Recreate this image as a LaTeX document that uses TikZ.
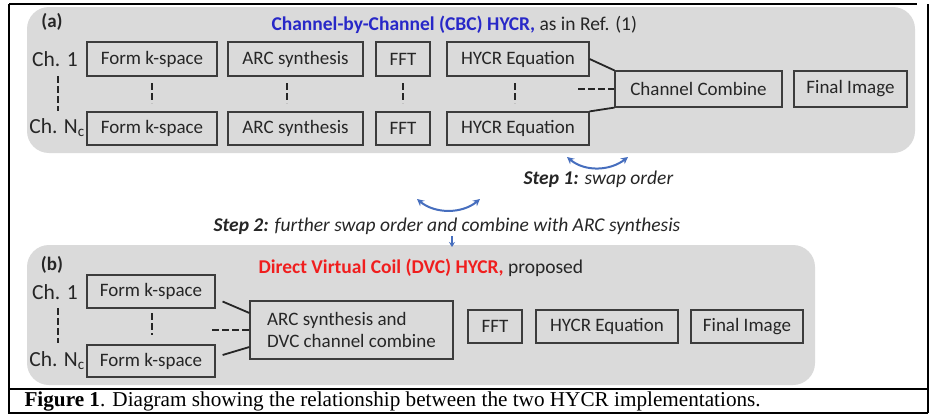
\documentclass[tikz,border=0pt]{standalone}
\usepackage{fontspec}
\setmainfont{Carlito}
\newfontfamily\capfont{Liberation Serif}
\usetikzlibrary{arrows.meta}
\definecolor{panelgray}{RGB}{218,218,218}
\definecolor{boxline}{RGB}{60,60,60}
\definecolor{cbcblue}{RGB}{40,40,200}
\definecolor{dvcred}{RGB}{240,30,30}
\definecolor{arrowblue}{RGB}{70,110,190}
\tikzset{
  panel/.style={fill=panelgray, draw=none, rounded corners=22pt},
  stepbox/.style={draw=boxline, line width=1.2pt, fill=panelgray, inner sep=0pt,
    font=\fontsize{19}{22}\selectfont, text=black!85},
  conn/.style={line width=1.8pt, black!85},
  dconn/.style={line width=2.4pt, black!85, dash pattern=on 7pt off 3pt},
  chlabel/.style={font=\fontsize{21.5}{24}\selectfont, text=black!85},
  swap/.style={line width=2pt, arrowblue, {Stealth[length=7pt,width=7pt]}-{Stealth[length=7pt,width=7pt]}},
  steptext/.style={font=\fontsize{19.5}{22}\selectfont\itshape, text=black!85, anchor=west},
  title/.style={font=\fontsize{19.5}{22}\selectfont, anchor=west, text=black!85},
}
\begin{document}
\begin{tikzpicture}[x=1pt,y=-1pt]
\useasboundingbox (0,0) rectangle (934,415);
\fill[white] (0,0) rectangle (934,415);
% outer frame
\draw[line width=1.5pt] (9,4) -- (917,4);
\draw[line width=2.5pt] (928,4) -- (928,413);
\draw[line width=1.5pt] (9,4) -- (9,413) -- (928,413);
\draw[line width=1.5pt] (9,389) -- (928,389);
% panels
\fill[panel] (27,7) rectangle (915,153);
\fill[panel] (27,245) rectangle (815,385);

% ---------- (a) ----------
\node[font=\fontsize{19}{22}\selectfont\bfseries, text=black!85] (la) at (52,22) {(a)};
\node[title] (ta) at (268,25)
  {\textcolor{cbcblue}{\bfseries Channel-by-Channel (CBC) HYCR,} as in Ref. (1)};
\node[chlabel] (ch1a) at (55,59) {Ch. 1};
\node[chlabel] (chna) at (57,128) {Ch. N\textsubscript{c}};

\node[stepbox, minimum width=130pt, minimum height=34pt] (fa1) at (152,59) {Form k-space};
\node[stepbox, minimum width=135pt, minimum height=34pt] (aa1) at (295.5,59) {ARC synthesis};
\node[stepbox, minimum width=54pt, minimum height=34pt] (ffa1) at (403,59) {FFT};
\node[stepbox, minimum width=142pt, minimum height=34pt] (ha1) at (518,59) {HYCR Equation};

\node[stepbox, minimum width=130pt, minimum height=33pt] (fa2) at (152,128.5) {Form k-space};
\node[stepbox, minimum width=135pt, minimum height=33pt] (aa2) at (295.5,128.5) {ARC synthesis};
\node[stepbox, minimum width=54pt, minimum height=33pt] (ffa2) at (403,128.5) {FFT};
\node[stepbox, minimum width=142pt, minimum height=33pt] (ha2) at (518,128.5) {HYCR Equation};

\node[stepbox, minimum width=167pt, minimum height=36pt] (cc) at (698.5,89) {Channel Combine};
\node[stepbox, minimum width=113pt, minimum height=36pt] (fia) at (850.5,89) {Final Image};

% dashed verticals (a)
\coordinate (dch1) at (58,76); \coordinate (dch2) at (58,111);
\draw[dconn] (dch1) -- (dch2);
\coordinate (d1t) at (152,83); \coordinate (d1b) at (152,103);
\coordinate (d2t) at (287,83); \coordinate (d2b) at (287,103);
\coordinate (d3t) at (403,83); \coordinate (d3b) at (403,103);
\coordinate (d4t) at (515,83); \coordinate (d4b) at (515,103);
\draw[dconn] (d1t) -- (d1b);
\draw[dconn] (d2t) -- (d2b);
\draw[dconn] (d3t) -- (d3b);
\draw[dconn] (d4t) -- (d4b);
% connectors (a)
\draw[conn] (ha1.east) -- (cc.north west);
\draw[conn] (ha2.north east) -- (cc.south west);
\coordinate (ccd) at (578,89);
\draw[dconn] (ccd) -- (cc.west);

% ---------- steps ----------
\coordinate (s1a) at (567,157); \coordinate (s1b) at (628,157);
\draw[swap] (s1a) .. controls (585,172) and (610,171) .. (s1b);
\node[steptext] (s1) at (520,179) {\textbf{Step 1:} swap order};
\coordinate (s2a) at (417,199); \coordinate (s2b) at (480,199);
\draw[swap] (s2a) .. controls (435,214) and (462,214) .. (s2b);
\node[steptext] (s2) at (210,226)
  {\textbf{Step 2:} further swap order and combine with ARC synthesis};
\coordinate (dn1) at (452,236); \coordinate (dn2) at (452,247);
\draw[line width=1.5pt, arrowblue, -{Stealth[length=5pt,width=6pt]}] (dn1) -- (dn2);

% ---------- (b) ----------
\node[font=\fontsize{19}{22}\selectfont\bfseries, text=black!85] (lb) at (52,265) {(b)};
\node[title] (tb) at (255,268)
  {\textcolor{dvcred}{\bfseries Direct Virtual Coil (DVC) HYCR,} proposed};
\node[chlabel] (ch1b) at (55,292) {Ch. 1};
\node[chlabel] (chnb) at (57,361) {Ch. N\textsubscript{c}};

\node[stepbox, minimum width=128pt, minimum height=33pt] (fb1) at (151,291.5) {Form k-space};
\node[stepbox, minimum width=128pt, minimum height=32pt] (fb2) at (151,361) {Form k-space};
\node[stepbox, minimum width=203pt, minimum height=58pt, align=left] (dvc) at (351.5,330)
  {ARC synthesis and\\DVC channel combine};
\node[stepbox, minimum width=54pt, minimum height=33pt] (ffb) at (495,326.5) {FFT};
\node[stepbox, minimum width=142pt, minimum height=33pt] (hb) at (607,326.5) {HYCR Equation};
\node[stepbox, minimum width=112pt, minimum height=33pt] (fib) at (747,326.5) {Final Image};

\coordinate (dbch1) at (58,308); \coordinate (dbch2) at (58,343);
\draw[dconn] (dbch1) -- (dbch2);
\coordinate (db1t) at (152,313); \coordinate (db1b) at (152,335);
\draw[dconn] (db1t) -- (db1b);
\draw[conn] ([xshift=7pt,yshift=-10pt]fb1.east) -- ([yshift=17pt]dvc.west);
\draw[conn] ([xshift=7pt,yshift=6pt]fb2.east) -- ([yshift=-17pt]dvc.west);
\coordinate (dvd) at (212,330);
\draw[dconn] (dvd) -- (dvc.west);

% caption
\node[font=\capfont\fontsize{21.2}{24}\selectfont, anchor=west] (cap) at (21,401)
  {\textbf{Figure 1}. Diagram showing the relationship between the two HYCR implementations.};
\end{tikzpicture}
\end{document}
